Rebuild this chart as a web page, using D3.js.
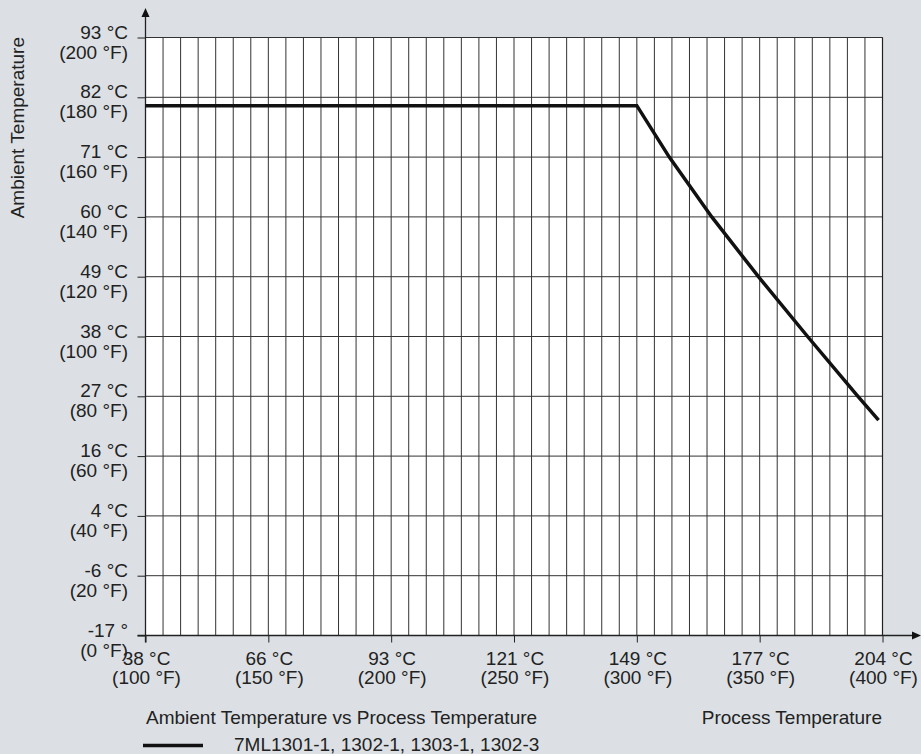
<!DOCTYPE html>
<html>
<head>
<meta charset="utf-8">
<script src="https://cdn.jsdelivr.net/npm/d3@7"></script>
<style>
  body { margin: 0; background: #dce0e4; }
  svg { display: block; font-family: "Liberation Sans", Arial, sans-serif; }
  text { fill: #222; }
</style>
</head>
<body>
<svg id="chart"></svg>
<script>
// Data (all in °F, labels as printed)
const xTicksF = [100, 150, 200, 250, 300, 350, 400];
const xLabelsC = ["38 °C", "66 °C", "93 °C", "121 °C", "149 °C", "177 °C", "204 °C"];
const xLabelsF = ["(100 °F)", "(150 °F)", "(200 °F)", "(250 °F)", "(300 °F)", "(350 °F)", "(400 °F)"];

const yTicksF = [0, 20, 40, 60, 80, 100, 120, 140, 160, 180, 200];
const yLabelsC = ["-17 °", "-6 °C", "4 °C", "16 °C", "27 °C", "38 °C", "49 °C", "60 °C", "71 °C", "82 °C", "93 °C"];
const yLabelsF = ["(0 °F)", "(20 °F)", "(40 °F)", "(60 °F)", "(80 °F)", "(100 °F)", "(120 °F)", "(140 °F)", "(160 °F)", "(180 °F)", "(200 °F)"];

// derating curve 7ML1301-1, 1302-1, 1303-1, 1302-3
const processF = [100, 300, 313.2, 330.5, 349.5, 369.5, 390, 398.4];
const ambientF = [177.2, 177.2, 160, 140, 120, 100, 80, 72];

const gridColumns = 42;

// Constants
const width = 921;
const height = 754;
const fontSize = 19;

const svg = d3.select("#chart")
  .attr("width", width)
  .attr("height", height);

const x = d3.scaleLinear().domain([100, 400]).range([145.5, 882.5]);
const y = d3.scaleLinear().domain([0, 200]).range([635.5, 37.5]);

svg.append("rect").attr("width", width).attr("height", height).attr("fill", "#dce0e4");

// plot area
svg.append("rect")
  .attr("x", x(100)).attr("y", y(200))
  .attr("width", x(400) - x(100)).attr("height", y(0) - y(200))
  .attr("fill", "#fff");

// vertical grid
const colStep = (400 - 100) / gridColumns;
svg.append("g").selectAll("line")
  .data(d3.range(1, gridColumns + 1).map(i => 100 + i * colStep))
  .enter().append("line")
  .attr("x1", d => x(d)).attr("x2", d => x(d))
  .attr("y1", y(0)).attr("y2", y(200))
  .attr("stroke", "#333").attr("stroke-width", 1);

// horizontal grid
svg.append("g").selectAll("line")
  .data(yTicksF.slice(1))
  .enter().append("line")
  .attr("x1", x(100)).attr("x2", x(400))
  .attr("y1", d => y(d)).attr("y2", d => y(d))
  .attr("stroke", "#333").attr("stroke-width", 1);

// axes
const yAxis = d3.axisLeft(y).tickValues(yTicksF).tickSize(8).tickFormat("");
const gy = svg.append("g").attr("transform", `translate(${x(100)},0)`).call(yAxis);
gy.select(".domain").remove();
gy.selectAll(".tick line").attr("stroke", "#222");

const xAxis = d3.axisBottom(x).tickValues(xTicksF).tickSize(7).tickFormat("");
const gx = svg.append("g").attr("transform", `translate(0,${y(0)})`).call(xAxis);
gx.select(".domain").remove();
gx.selectAll(".tick line").attr("stroke", "#222");

// axis lines with arrows
svg.append("line")
  .attr("x1", x(100)).attr("x2", x(100))
  .attr("y1", 15).attr("y2", y(0) + 7)
  .attr("stroke", "#222").attr("stroke-width", 1.3);
svg.append("path")
  .attr("d", `M${x(100)},8 L${x(100) - 4},17 L${x(100) + 4},17 Z`)
  .attr("fill", "#111");
svg.append("line")
  .attr("x1", x(100) - 8).attr("x2", 914)
  .attr("y1", y(0)).attr("y2", y(0))
  .attr("stroke", "#222").attr("stroke-width", 1.3);
svg.append("path")
  .attr("d", `M921,${y(0)} L912,${y(0) - 4} L912,${y(0) + 4} Z`)
  .attr("fill", "#111");

// right border
svg.append("line")
  .attr("x1", x(400)).attr("x2", x(400)).attr("y1", y(0)).attr("y2", y(200))
  .attr("stroke", "#222").attr("stroke-width", 1.2);

// y tick labels
const yl = svg.append("g").attr("font-size", fontSize).attr("text-anchor", "end");
yTicksF.forEach((v, i) => {
  yl.append("text").attr("x", 128).attr("y", y(v) + 1).text(yLabelsC[i]);
  yl.append("text").attr("x", 128).attr("y", y(v) + 21).text(yLabelsF[i]);
});

// x tick labels
const xl = svg.append("g").attr("font-size", fontSize).attr("text-anchor", "middle");
xTicksF.forEach((v, i) => {
  xl.append("text").attr("x", x(v) + 1).attr("y", 665).text(xLabelsC[i]);
  xl.append("text").attr("x", x(v) + 1).attr("y", 684).text(xLabelsF[i]);
});

// axis titles
svg.append("text")
  .attr("transform", "translate(23.5,37) rotate(-90)")
  .attr("text-anchor", "end").attr("font-size", fontSize)
  .text("Ambient Temperature");
svg.append("text")
  .attr("x", 882).attr("y", 724)
  .attr("text-anchor", "end").attr("font-size", fontSize)
  .text("Process Temperature");

// curve
const line = d3.line().x(d => x(d[0])).y(d => y(d[1]));
svg.append("path")
  .datum(d3.zip(processF, ambientF))
  .attr("d", line)
  .attr("fill", "none")
  .attr("stroke", "#111")
  .attr("stroke-width", 3.5)
  .attr("stroke-linejoin", "miter");

// legend
svg.append("text")
  .attr("x", 146).attr("y", 724).attr("font-size", fontSize)
  .text("Ambient Temperature vs Process Temperature");
svg.append("line")
  .attr("x1", 143).attr("x2", 203).attr("y1", 745.5).attr("y2", 745.5)
  .attr("stroke", "#111").attr("stroke-width", 3.5);
svg.append("text")
  .attr("x", 234).attr("y", 751).attr("font-size", fontSize)
  .text("7ML1301-1, 1302-1, 1303-1, 1302-3");
</script>
</body>
</html>
